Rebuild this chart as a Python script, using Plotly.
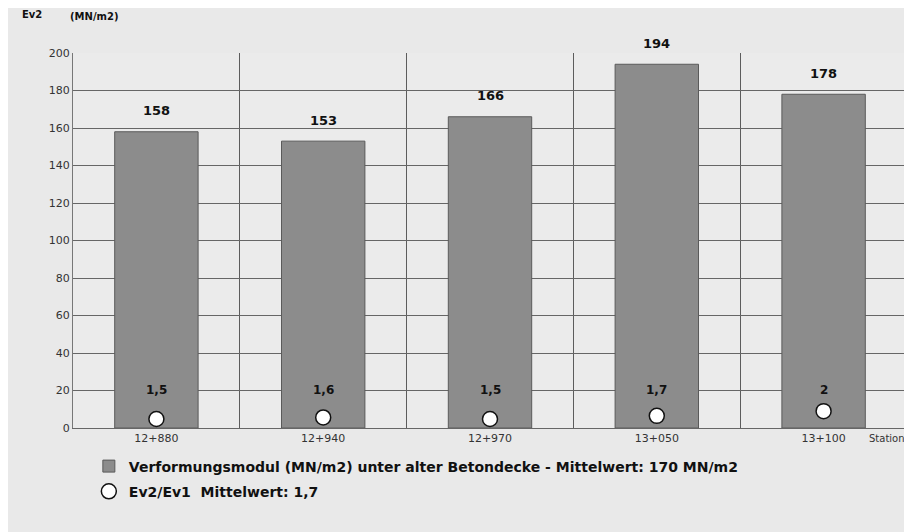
import plotly.graph_objects as go

stations = ["12+880", "12+940", "12+970", "13+050", "13+100"]
ev2 = [158, 153, 166, 194, 178]
ratio = [1.5, 1.6, 1.5, 1.7, 2.0]
y_ticks = [0, 20, 40, 60, 80, 100, 120, 140, 160, 180, 200]

xpos = list(range(len(stations)))
FONT = "DejaVu Sans, Verdana, sans-serif"

fig = go.Figure()
fig.add_trace(go.Bar(
    x=xpos, y=ev2, width=0.5,
    marker=dict(color="#8c8c8c", line=dict(color="#5a5a5a", width=1)),
    name="<b>Verformungsmodul (MN/m2) unter alter Betondecke - Mittelwert: 170 MN/m2</b>",
    legendgroup="a",
))
fig.add_trace(go.Scatter(
    x=xpos, y=ratio, yaxis="y2", mode="markers",
    marker=dict(symbol="circle", size=15, color="white", line=dict(color="#111", width=1.5)),
    name="<b>Ev2/Ev1  Mittelwert: 1,7</b>",
    legendgroup="b",
))

for x, v in zip(xpos, ev2):
    fig.add_annotation(x=x, y=v, text=f"<b>{v}</b>", showarrow=False, yshift=21,
                       font=dict(family=FONT, size=13, color="#111"))
for x, r in zip(xpos, ratio):
    txt = f"{r:g}".replace(".", ",")
    fig.add_annotation(x=x, y=20, text=f"<b>{txt}</b>", showarrow=False, yshift=1,
                       font=dict(family=FONT, size=12, color="#111"))

fig.add_annotation(xref="paper", yref="paper", x=1.0, y=0, xanchor="right", yanchor="top",
                   yshift=-3, text="Station", showarrow=False,
                   font=dict(family=FONT, size=10, color="#333"))
fig.add_annotation(xref="paper", yref="paper", x=-0.064, y=1.102, xanchor="left", yanchor="middle",
                   text="<b>Ev2</b>", showarrow=False, font=dict(family=FONT, size=10, color="#111"))
fig.add_annotation(xref="paper", yref="paper", x=-0.006, y=1.098, xanchor="left", yanchor="middle",
                   text="<b>(MN/m2)</b>", showarrow=False, font=dict(family=FONT, size=10, color="#111"))

fig.update_layout(
    width=904, height=524,
    margin=dict(l=65, r=5, t=45, b=104),
    paper_bgcolor="#e9e9e9", plot_bgcolor="#ebebeb",
    font=dict(family=FONT, color="#333"),
    xaxis=dict(range=[-0.5, 4.5], tickvals=xpos, ticktext=stations, showgrid=False,
               tickfont=dict(size=11, color="#333"), ticks="", zeroline=False,
               showline=True, linecolor="#666", linewidth=1,
               minor=dict(tick0=-0.5, dtick=1, showgrid=True, gridcolor="#5c5c5c", gridwidth=1)),
    yaxis=dict(range=[0, 200], tickvals=y_ticks, showgrid=True, gridcolor="#666", gridwidth=1,
               tickfont=dict(size=11, color="#333"), zeroline=False, ticks="",
               showline=True, linecolor="#777", linewidth=1, mirror=True),
    yaxis2=dict(overlaying="y", range=[0.929, 24.74], visible=False),
    legend=dict(x=0.019, y=-0.06, xanchor="left", yanchor="top", orientation="v",
                bgcolor="rgba(0,0,0,0)", font=dict(family=FONT, size=14, color="#111"),
                itemwidth=30, tracegroupgap=4),
)

fig.write_html("out.html")
